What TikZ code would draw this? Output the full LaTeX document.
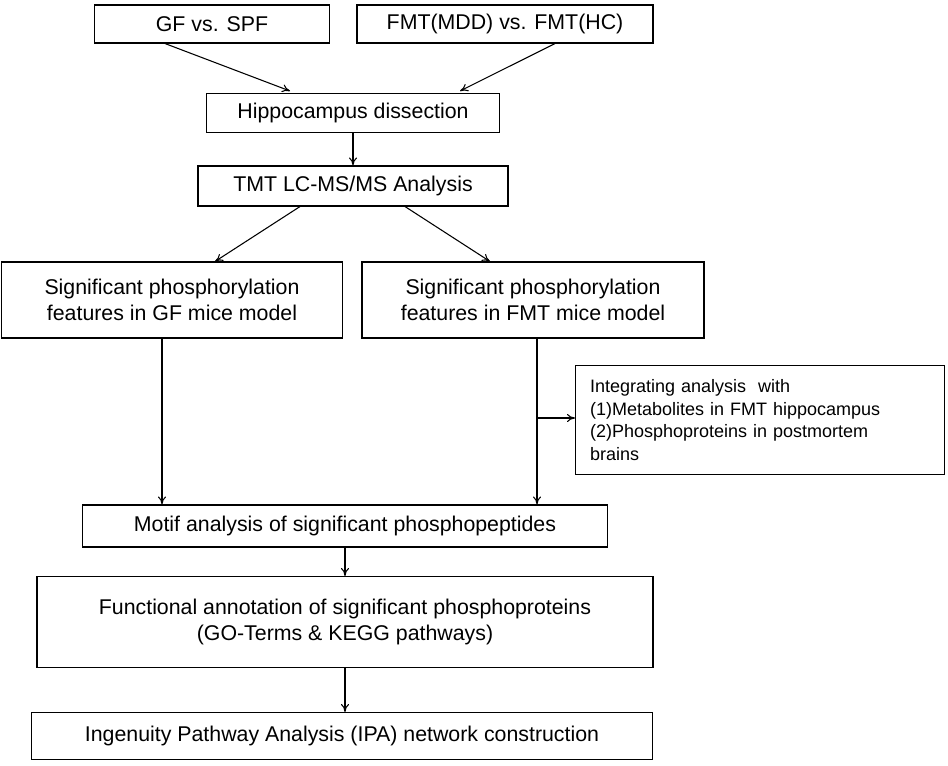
\documentclass[tikz,border=0pt]{standalone}
\usepackage{fontspec}
\setmainfont{Liberation Sans}
\usetikzlibrary{arrows.meta}
\begin{document}
\begin{tikzpicture}[x=0.75pt,y=-0.75pt,
	box/.style={draw=black,thick,inner sep=2pt,align=center,font=\fontsize{16}{20}\selectfont},
	sz/.style 2 args={minimum width={#1*0.75pt},minimum height={#2*0.75pt}},
	arr/.style={-{To[length=6pt,width=6pt]},thick}]
	\useasboundingbox (0,0) rectangle (948,765);
	
	\node[box,sz={235}{38}] (gf) at (212,24) {GF vs. SPF};
	\node[box,sz={296}{38}] (fmt) at (505,24) {FMT(MDD) vs. FMT(HC)};
	\node[box,sz={293}{39}] (hip) at (353,113) {Hippocampus dissection};
	\node[box,sz={310}{40}] (tmt) at (353,186) {TMT LC-MS/MS Analysis};
	\node[box,sz={341}{76}] (sgf) at (172,300) {Significant phosphorylation\\features in GF mice model};
	\node[box,sz={342}{76}] (sfmt) at (533,300) {Significant phosphorylation\\features in FMT mice model};
	\node[box,sz={369}{109},align=left,font=\fontsize{13.5}{17}\selectfont,text width=340*0.75pt] (int) at (760,420) {Integrating analysis~ with\\(1)Metabolites in FMT hippocampus\\(2)Phosphoproteins in postmortem\\brains};
	\node[box,sz={525}{42}] (motif) at (345,526) {Motif analysis of significant phosphopeptides};
	\node[box,sz={616}{91}] (func) at (345,622) {Functional annotation of significant phosphoproteins\\(GO-Terms \& KEGG pathways)};
	\node[box,sz={621}{47}] (ipa) at (342,736) {Ingenuity Pathway Analysis (IPA) network construction};
	
	\coordinate (br) at (537,418);
	
	\draw[arr] (gf.south -| 165,0) -- (290,91);
	\draw[arr] (fmt.south -| 555,0) -- (460,91);
	\draw[arr] (hip) -- (tmt);
	\draw[arr] (tmt.south -| 300,0) -- (sgf.north -| 215,0);
	\draw[arr] (tmt.south -| 405,0) -- (sfmt.north -| 490,0);
	\draw[arr] (sgf.south -| 162,0) -- (motif.north -| 162,0);
	\draw[arr] (sfmt.south -| 537,0) -- (motif.north -| 537,0);
	\draw[arr] (br) -- (int.west |- br);
	\draw[arr] (motif.south -| 345,0) -- (func.north -| 345,0);
	\draw[arr] (func.south -| 345,0) -- (ipa.north -| 345,0);
	
\end{tikzpicture}
\end{document}
